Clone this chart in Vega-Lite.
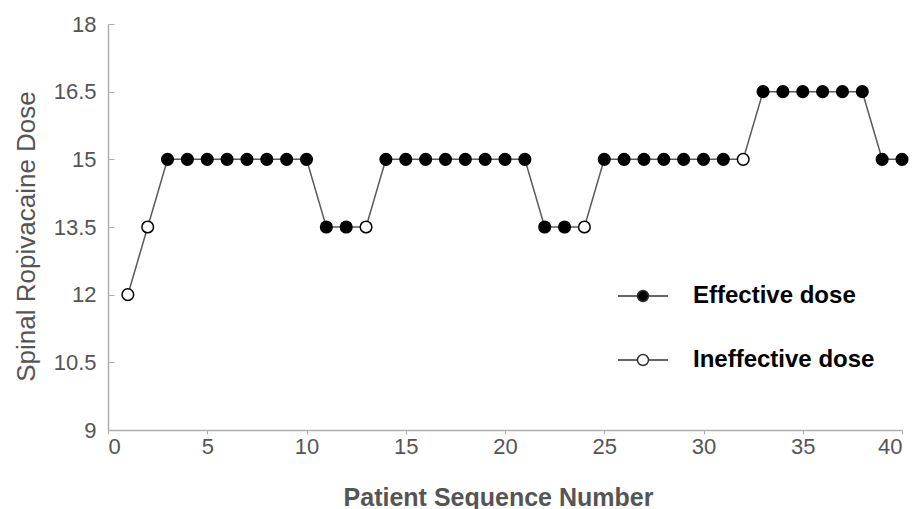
{
  "$schema": "https://vega.github.io/schema/vega-lite/v6.json",
  "autosize": "none",
  "width": 794,
  "height": 406,
  "padding": {"left": 108, "top": 24, "right": 17, "bottom": 79},
  "background": "white",
  "config": {"view": {"stroke": null}, "font": "Liberation Sans"},
  "data": {"values": [
    {"patient": 1, "dose": 12, "status": "Ineffective dose"},
    {"patient": 2, "dose": 13.5, "status": "Ineffective dose"},
    {"patient": 3, "dose": 15, "status": "Effective dose"},
    {"patient": 4, "dose": 15, "status": "Effective dose"},
    {"patient": 5, "dose": 15, "status": "Effective dose"},
    {"patient": 6, "dose": 15, "status": "Effective dose"},
    {"patient": 7, "dose": 15, "status": "Effective dose"},
    {"patient": 8, "dose": 15, "status": "Effective dose"},
    {"patient": 9, "dose": 15, "status": "Effective dose"},
    {"patient": 10, "dose": 15, "status": "Effective dose"},
    {"patient": 11, "dose": 13.5, "status": "Effective dose"},
    {"patient": 12, "dose": 13.5, "status": "Effective dose"},
    {"patient": 13, "dose": 13.5, "status": "Ineffective dose"},
    {"patient": 14, "dose": 15, "status": "Effective dose"},
    {"patient": 15, "dose": 15, "status": "Effective dose"},
    {"patient": 16, "dose": 15, "status": "Effective dose"},
    {"patient": 17, "dose": 15, "status": "Effective dose"},
    {"patient": 18, "dose": 15, "status": "Effective dose"},
    {"patient": 19, "dose": 15, "status": "Effective dose"},
    {"patient": 20, "dose": 15, "status": "Effective dose"},
    {"patient": 21, "dose": 15, "status": "Effective dose"},
    {"patient": 22, "dose": 13.5, "status": "Effective dose"},
    {"patient": 23, "dose": 13.5, "status": "Effective dose"},
    {"patient": 24, "dose": 13.5, "status": "Ineffective dose"},
    {"patient": 25, "dose": 15, "status": "Effective dose"},
    {"patient": 26, "dose": 15, "status": "Effective dose"},
    {"patient": 27, "dose": 15, "status": "Effective dose"},
    {"patient": 28, "dose": 15, "status": "Effective dose"},
    {"patient": 29, "dose": 15, "status": "Effective dose"},
    {"patient": 30, "dose": 15, "status": "Effective dose"},
    {"patient": 31, "dose": 15, "status": "Effective dose"},
    {"patient": 32, "dose": 15, "status": "Ineffective dose"},
    {"patient": 33, "dose": 16.5, "status": "Effective dose"},
    {"patient": 34, "dose": 16.5, "status": "Effective dose"},
    {"patient": 35, "dose": 16.5, "status": "Effective dose"},
    {"patient": 36, "dose": 16.5, "status": "Effective dose"},
    {"patient": 37, "dose": 16.5, "status": "Effective dose"},
    {"patient": 38, "dose": 16.5, "status": "Effective dose"},
    {"patient": 39, "dose": 15, "status": "Effective dose"},
    {"patient": 40, "dose": 15, "status": "Effective dose"}
  ]},
  "encoding": {
    "x": {
      "field": "patient", "type": "quantitative",
      "scale": {"domain": [0, 40], "nice": false, "zero": false},
      "axis": {
        "title": "Patient Sequence Number",
        "values": [0, 5, 10, 15, 20, 25, 30, 35, 40],
        "grid": false,
        "domainColor": "#b0b0b0", "domainWidth": 1.5,
        "tickColor": "#b0b0b0", "tickSize": 4,
        "labelFont": "Liberation Sans", "labelFontSize": 22, "labelColor": "#555555",
        "labelPadding": 2,
        "titleFont": "Liberation Sans", "titleFontSize": 25, "titleFontWeight": "bold", "titleColor": "#555555",
        "titlePadding": 28,
        "titleX": 390
      }
    },
    "y": {
      "field": "dose", "type": "quantitative",
      "scale": {"domain": [9, 18], "nice": false, "zero": false},
      "axis": {
        "title": "Spinal Ropivacaine  Dose",
        "values": [9, 10.5, 12, 13.5, 15, 16.5, 18],
        "format": ".1~f",
        "grid": false,
        "domainColor": "#b0b0b0", "domainWidth": 1.5,
        "tickColor": "#b0b0b0", "tickSize": -6,
        "labelFont": "Liberation Sans", "labelFontSize": 22, "labelColor": "#555555",
        "labelPadding": 18,
        "titleFont": "Liberation Sans", "titleFontSize": 26, "titleFontWeight": "normal", "titleColor": "#555555",
        "titlePadding": 14,
        "titleY": 212
      }
    }
  },
  "layer": [
    {
      "mark": {"type": "line", "color": "#5a5a5a", "strokeWidth": 1.5},
      "encoding": {}
    },
    {
      "mark": {"type": "point", "filled": false, "stroke": "#000000", "strokeWidth": 1.5, "size": 135, "opacity": 1, "shape": "circle"},
      "encoding": {
        "fill": {
          "field": "status", "type": "nominal",
          "scale": {"domain": ["Effective dose", "Ineffective dose"], "range": ["#000000", "#ffffff"]},
          "legend": {
            "title": null,
            "orient": "none",
            "legendX": 509,
            "legendY": 246,
            "padding": 0,
            "symbolType": "M-1,0H-0.22M0.22,0H1M-0.22,0A0.22,0.22,0,1,1,0.22,0A0.22,0.22,0,1,1,-0.22,0Z",
            "symbolSize": 2500,
            "symbolStrokeColor": "#333333",
            "symbolStrokeWidth": 1.5,
            "symbolOpacity": 1,
            "rowPadding": 26,
            "labelOffset": 24,
            "labelFont": "Liberation Sans",
            "labelFontSize": 24,
            "labelFontWeight": "bold",
            "labelColor": "#000000",
            "labelLimit": 400
          }
        }
      }
    }
  ]
}
